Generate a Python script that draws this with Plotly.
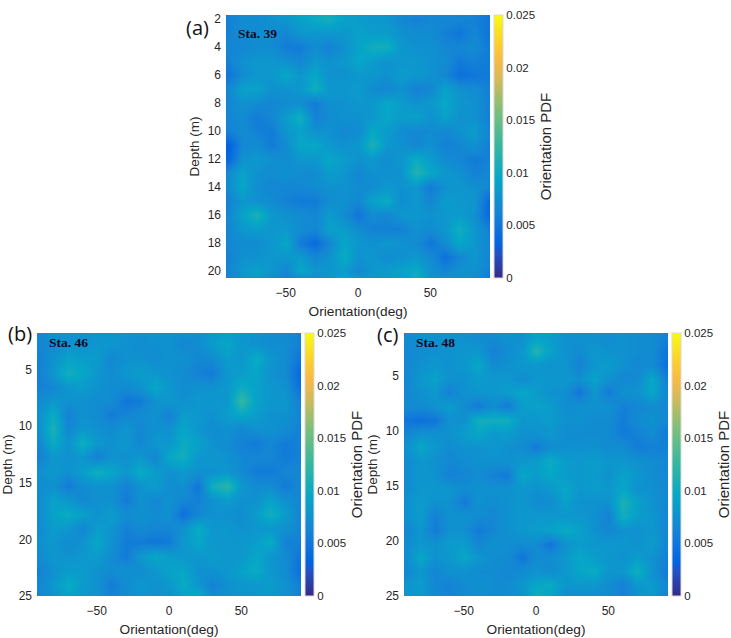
import plotly.graph_objects as go

W, H = 731, 638

# grid of the three maps, values in units of 1e-3
orientation = [-90, -80, -70, -60, -50, -40, -30, -20, -10, 0, 10, 20, 30, 40, 50, 60, 70, 80, 90]
depth_a = [1, 2, 3, 4, 5, 6, 7, 8, 9, 10, 11, 12, 13, 14, 15, 16, 17, 18, 19, 20, 21]
depth_bc = [1.5, 2.75, 4, 5.25, 6.5, 7.75, 9, 10.25, 11.5, 12.75, 14, 15.25, 16.5, 17.75, 19, 20.25, 21.5, 22.75, 24, 25.25]

pdf_a = [
    [6.0, 7.0, 7.0, 7.5, 8.0, 9.0, 9.5, 9.5, 8.5, 8.0, 8.0, 7.5, 7.0, 7.0, 7.0, 7.0, 6.5, 6.5, 5.5],
    [6.0, 7.0, 7.0, 7.5, 8.0, 9.0, 10.0, 10.5, 9.0, 8.5, 8.0, 8.0, 6.5, 6.0, 6.5, 6.5, 6.5, 6.0, 5.0],
    [6.0, 7.0, 7.0, 7.0, 6.5, 8.0, 8.0, 8.0, 8.0, 9.0, 8.5, 8.5, 7.5, 7.0, 7.0, 6.0, 5.0, 6.5, 5.0],
    [6.5, 6.5, 7.0, 7.0, 5.5, 5.5, 7.0, 6.0, 7.5, 9.0, 10.5, 10.5, 8.0, 7.5, 7.5, 6.5, 6.5, 7.0, 5.5],
    [6.0, 7.5, 8.0, 8.0, 7.5, 6.5, 8.0, 7.5, 8.0, 9.5, 8.5, 7.5, 8.0, 8.0, 7.5, 7.0, 5.5, 6.0, 5.5],
    [5.0, 7.0, 8.0, 8.0, 9.5, 8.0, 9.5, 7.5, 7.5, 8.0, 8.0, 7.5, 8.5, 8.0, 7.5, 6.5, 4.5, 5.0, 5.5],
    [6.5, 9.0, 9.0, 7.5, 7.5, 8.0, 10.5, 8.0, 8.0, 8.5, 7.0, 6.5, 7.5, 6.0, 6.5, 9.0, 7.5, 7.0, 6.0],
    [6.5, 7.5, 7.0, 6.5, 7.0, 7.0, 5.5, 7.5, 7.5, 8.0, 8.0, 9.5, 8.5, 7.5, 8.0, 9.5, 8.0, 7.5, 6.0],
    [6.5, 7.0, 5.5, 6.5, 8.5, 10.5, 6.0, 7.0, 7.5, 7.5, 8.0, 9.5, 8.5, 9.0, 7.5, 9.0, 7.5, 7.5, 6.0],
    [6.0, 7.0, 6.0, 5.5, 8.0, 9.0, 7.5, 7.5, 6.5, 7.0, 9.5, 8.5, 7.0, 6.5, 7.0, 6.5, 7.5, 8.5, 6.5],
    [3.0, 6.5, 7.0, 5.5, 7.0, 9.5, 9.5, 8.0, 7.5, 8.0, 11.0, 8.0, 7.5, 6.5, 7.5, 6.0, 6.5, 7.5, 6.0],
    [3.5, 7.5, 8.0, 7.5, 7.0, 8.0, 8.0, 9.5, 8.5, 7.5, 8.0, 7.0, 8.0, 10.0, 8.5, 7.0, 6.5, 5.5, 6.0],
    [7.0, 9.0, 7.5, 7.0, 7.5, 7.0, 7.0, 8.5, 8.0, 6.5, 7.5, 7.5, 7.5, 11.5, 9.5, 8.0, 7.5, 6.0, 6.5],
    [7.0, 9.5, 7.0, 6.5, 6.5, 6.5, 7.0, 7.5, 7.5, 7.0, 7.0, 8.0, 7.5, 8.0, 5.5, 7.5, 8.0, 7.5, 6.5],
    [6.0, 8.0, 7.5, 7.0, 6.0, 5.5, 5.5, 7.0, 7.5, 6.5, 9.0, 10.0, 7.0, 8.0, 6.5, 8.5, 8.0, 8.0, 4.0],
    [6.5, 9.0, 11.0, 8.0, 7.5, 7.0, 6.5, 8.5, 7.0, 5.0, 7.0, 6.5, 8.0, 8.0, 7.5, 8.0, 8.5, 7.5, 4.0],
    [6.5, 8.0, 8.5, 8.0, 8.0, 7.0, 6.5, 9.0, 8.5, 7.0, 6.0, 6.0, 6.0, 7.5, 7.0, 8.0, 10.5, 8.0, 6.0],
    [6.5, 7.0, 7.0, 8.0, 9.5, 5.5, 4.0, 6.5, 9.5, 8.0, 7.5, 8.0, 7.5, 7.0, 5.0, 7.0, 9.5, 8.0, 6.5],
    [6.0, 7.5, 7.5, 8.0, 8.0, 8.5, 6.5, 7.5, 10.0, 7.5, 8.0, 7.0, 7.5, 8.0, 7.0, 4.5, 6.5, 8.0, 6.5],
    [6.5, 8.0, 9.0, 8.0, 6.5, 9.5, 8.0, 8.0, 8.5, 6.5, 8.0, 8.5, 9.0, 10.0, 7.5, 6.5, 7.5, 7.5, 6.0],
    [6.0, 7.5, 7.5, 6.5, 5.5, 4.5, 6.5, 8.0, 11.0, 10.0, 8.0, 8.0, 8.5, 10.5, 8.0, 8.5, 7.5, 7.0, 5.0],
]

pdf_b = [
    [6.5, 7.5, 7.5, 7.5, 7.5, 7.5, 7.5, 7.5, 7.5, 7.5, 7.5, 7.5, 8.0, 8.5, 8.0, 7.5, 7.0, 7.0, 6.0],
    [6.5, 7.0, 7.5, 7.5, 8.0, 8.0, 7.5, 7.0, 7.5, 7.5, 6.5, 7.0, 8.5, 9.5, 8.0, 7.5, 7.0, 7.0, 6.0],
    [6.0, 7.5, 9.0, 8.5, 8.5, 6.5, 7.5, 7.5, 7.0, 7.5, 7.5, 6.5, 7.0, 8.5, 8.0, 10.0, 8.0, 7.0, 5.0],
    [6.0, 8.0, 10.5, 9.5, 8.0, 7.0, 8.0, 8.5, 8.0, 7.5, 7.0, 6.0, 5.5, 8.0, 8.5, 9.5, 7.5, 7.0, 4.0],
    [6.0, 6.5, 8.0, 8.5, 7.5, 7.0, 7.0, 7.5, 9.5, 8.0, 7.0, 7.5, 7.5, 8.0, 10.0, 9.0, 8.0, 7.5, 4.5],
    [7.0, 8.0, 7.5, 7.5, 7.0, 7.0, 5.0, 5.5, 7.5, 8.0, 7.5, 8.0, 8.0, 8.0, 12.5, 9.0, 8.0, 8.0, 6.0],
    [7.5, 10.0, 6.0, 7.5, 7.0, 5.5, 6.5, 7.0, 7.5, 6.0, 8.5, 8.0, 7.5, 8.5, 9.5, 8.5, 7.5, 7.5, 6.5],
    [7.5, 11.0, 6.5, 8.0, 7.5, 7.0, 8.0, 6.5, 7.5, 7.5, 9.5, 8.0, 7.0, 7.5, 6.5, 7.5, 7.5, 7.0, 6.0],
    [6.5, 10.0, 7.5, 10.5, 8.0, 7.5, 8.0, 6.5, 8.0, 8.0, 10.0, 9.0, 7.5, 7.0, 6.0, 5.5, 6.5, 5.5, 6.0],
    [6.0, 8.0, 7.5, 8.0, 6.0, 7.5, 7.5, 8.0, 6.5, 9.5, 10.5, 8.0, 8.0, 7.5, 6.5, 6.5, 6.5, 5.5, 6.0],
    [7.5, 8.0, 7.5, 8.5, 10.5, 9.5, 8.0, 10.0, 8.5, 7.5, 8.0, 7.5, 7.5, 8.0, 7.0, 5.5, 5.5, 6.5, 6.5],
    [7.0, 7.5, 5.5, 7.0, 7.5, 7.5, 6.0, 7.5, 8.5, 7.0, 7.5, 5.0, 10.5, 12.0, 8.0, 7.0, 7.0, 5.5, 6.5],
    [7.0, 9.0, 8.0, 6.5, 7.5, 7.5, 5.5, 7.5, 6.5, 7.5, 6.5, 6.0, 7.5, 8.5, 7.5, 7.5, 9.0, 7.5, 6.5],
    [7.0, 9.0, 10.0, 9.0, 7.5, 8.5, 7.0, 7.5, 7.0, 7.5, 4.5, 6.5, 7.5, 7.5, 7.0, 8.5, 10.5, 8.5, 6.5],
    [7.0, 8.5, 8.0, 6.5, 8.5, 8.0, 6.0, 7.0, 6.5, 6.5, 7.5, 10.0, 8.0, 8.0, 7.5, 8.0, 8.0, 7.5, 6.5],
    [7.5, 8.0, 7.0, 7.5, 9.5, 7.5, 5.5, 5.5, 5.0, 5.5, 8.0, 9.5, 8.0, 8.0, 8.0, 8.5, 10.0, 6.0, 6.0],
    [7.0, 8.0, 7.5, 8.0, 8.5, 7.0, 5.5, 8.0, 9.5, 8.5, 8.0, 8.0, 8.5, 8.0, 8.0, 9.5, 8.0, 7.0, 5.0],
    [6.0, 7.5, 8.5, 8.5, 7.5, 7.0, 7.5, 7.0, 8.0, 9.0, 9.5, 7.5, 7.5, 8.0, 9.0, 10.0, 8.0, 7.0, 4.5],
    [6.5, 8.0, 10.0, 8.5, 7.5, 5.5, 7.0, 8.0, 7.5, 8.0, 10.0, 8.0, 6.0, 7.5, 8.0, 8.0, 8.5, 7.5, 6.0],
    [6.5, 7.5, 8.5, 8.0, 7.5, 6.5, 7.0, 7.5, 7.5, 7.5, 8.5, 10.5, 7.5, 7.5, 7.5, 8.0, 8.0, 7.5, 6.0],
]

pdf_c = [
    [7.0, 7.5, 7.5, 7.5, 7.5, 7.0, 7.0, 7.5, 7.5, 9.0, 8.5, 7.5, 7.5, 7.5, 7.0, 7.5, 7.0, 7.0, 6.0],
    [6.5, 7.0, 7.5, 7.5, 8.0, 8.0, 6.0, 7.0, 8.0, 11.5, 9.0, 7.5, 7.0, 8.0, 7.5, 7.5, 7.0, 7.0, 5.0],
    [6.5, 7.5, 8.0, 7.5, 8.0, 9.5, 7.0, 7.5, 8.0, 8.0, 7.5, 8.0, 6.0, 8.0, 8.5, 7.5, 6.5, 7.0, 4.5],
    [6.5, 8.0, 9.0, 7.5, 7.5, 8.5, 8.0, 8.0, 7.0, 8.0, 8.0, 8.0, 7.5, 9.0, 7.5, 6.5, 7.0, 9.5, 6.0],
    [6.5, 7.5, 8.0, 6.0, 7.5, 8.0, 8.0, 8.5, 9.5, 8.5, 7.5, 7.5, 5.0, 8.0, 5.5, 7.5, 7.5, 9.5, 6.5],
    [7.0, 7.0, 7.5, 8.5, 7.0, 5.5, 7.0, 5.5, 8.5, 9.0, 8.5, 7.0, 7.5, 7.5, 7.5, 6.0, 6.5, 7.0, 6.5],
    [5.0, 4.5, 5.0, 7.5, 7.5, 10.5, 10.5, 10.5, 8.0, 8.0, 8.5, 7.5, 7.5, 7.0, 7.0, 5.5, 7.0, 7.5, 6.5],
    [6.5, 7.5, 7.5, 7.5, 8.5, 9.5, 8.0, 8.5, 7.5, 7.5, 8.0, 7.0, 7.0, 7.0, 7.0, 5.5, 6.0, 7.0, 5.5],
    [7.5, 9.5, 8.0, 7.0, 7.5, 7.5, 8.0, 7.5, 7.0, 5.5, 7.0, 7.5, 7.5, 7.5, 7.0, 7.0, 5.5, 6.0, 6.0],
    [7.0, 8.0, 7.5, 6.5, 7.0, 7.5, 7.5, 7.5, 8.0, 8.5, 10.0, 8.5, 8.0, 8.5, 8.0, 8.0, 7.5, 7.0, 6.5],
    [7.0, 8.0, 7.5, 6.0, 6.5, 7.0, 6.0, 5.5, 9.5, 8.5, 9.5, 8.5, 8.0, 8.5, 7.5, 9.0, 8.0, 7.0, 6.5],
    [7.0, 8.0, 8.0, 8.0, 7.0, 7.5, 7.5, 7.5, 8.0, 7.5, 8.0, 9.5, 8.0, 8.5, 8.0, 9.5, 7.5, 7.5, 6.5],
    [7.5, 8.5, 7.5, 7.5, 5.5, 7.5, 7.0, 7.5, 8.0, 7.0, 7.0, 9.0, 7.5, 7.5, 7.5, 11.0, 9.0, 7.5, 6.5],
    [7.5, 8.5, 6.0, 7.5, 7.5, 7.0, 6.5, 7.5, 8.0, 8.0, 8.0, 8.0, 8.0, 7.5, 6.0, 10.5, 8.5, 8.0, 6.5],
    [6.5, 8.0, 5.5, 7.5, 7.5, 5.5, 6.5, 7.5, 8.0, 8.5, 9.0, 10.0, 9.0, 7.5, 6.5, 7.5, 7.5, 8.0, 6.5],
    [7.0, 8.0, 7.5, 8.5, 8.5, 6.5, 7.5, 7.0, 7.0, 7.0, 5.0, 7.5, 8.5, 8.0, 8.0, 8.0, 7.5, 8.5, 6.5],
    [7.0, 9.5, 7.5, 8.0, 9.5, 8.0, 7.0, 7.0, 5.0, 7.0, 7.0, 8.0, 9.5, 8.5, 8.0, 7.5, 8.5, 7.5, 6.0],
    [6.5, 8.0, 6.5, 7.5, 7.5, 7.0, 7.0, 6.5, 7.0, 7.5, 7.0, 8.0, 9.5, 10.0, 8.0, 8.0, 10.5, 7.5, 5.5],
    [8.0, 8.5, 6.5, 6.0, 7.0, 7.5, 7.0, 7.0, 8.0, 9.5, 10.0, 8.0, 8.0, 8.0, 7.0, 6.0, 8.0, 8.5, 6.5],
    [7.5, 8.0, 7.0, 6.5, 7.0, 7.0, 7.0, 7.0, 7.5, 10.5, 9.0, 7.0, 7.0, 7.0, 7.0, 6.0, 7.5, 8.0, 6.0],
]

stations = ["Sta. 39", "Sta. 46", "Sta. 48"]
panel_tags = ["(a)", "(b)", "(c)"]

# parula
parula = [
    [0.0, "rgb(53,42,135)"], [0.0952, "rgb(32,83,199)"], [0.127, "rgb(3,99,225)"],
    [0.2063, "rgb(16,120,218)"], [0.254, "rgb(20,133,212)"], [0.381, "rgb(6,167,198)"],
    [0.508, "rgb(55,184,158)"], [0.635, "rgb(124,191,123)"], [0.762, "rgb(217,186,86)"],
    [0.825, "rgb(248,186,68)"], [0.889, "rgb(252,206,46)"], [1.0, "rgb(249,251,14)"],
]

cbar_ticks = [0, 0.005, 0.01, 0.015, 0.02, 0.025]
cbar_text = ["0", "0.005", "0.01", "0.015", "0.02", "0.025"]
x_ticks = [-50, 0, 50]

INK = "#262626"
ARIAL = "Liberation Sans"

# pixel boxes: left, top, right, bottom
boxes = [(226, 15, 490, 278), (37, 333, 301, 596), (404, 333, 668, 596)]
y_ranges = [[20.5, 1.7], [25, 1.76], [25, 1.1]]
y_ticks = [[2, 4, 6, 8, 10, 12, 14, 16, 18, 20], [5, 10, 15, 20, 25], [5, 10, 15, 20, 25]]
maps = [pdf_a, pdf_b, pdf_c]
depths = [depth_a, depth_bc, depth_bc]
tag_pos = [(197, 12), (20, 333), (387, 334)]

fig = go.Figure()

for i, box in enumerate(boxes):
    left, top, right, bottom = box
    n = "" if i == 0 else str(i + 1)
    fig.add_trace(go.Heatmap(
        x=orientation,
        y=depths[i],
        z=[[v * 1e-3 for v in row] for row in maps[i]],
        zmin=0,
        zmax=0.025,
        zsmooth="best",
        colorscale=parula,
        xaxis="x" + n,
        yaxis="y" + n,
        colorbar=dict(
            x=(right + 4) / W, xanchor="left", xpad=0,
            y=1 - top / H, yanchor="top", ypad=0,
            lenmode="pixels", len=bottom - top,
            thicknessmode="pixels", thickness=9,
            outlinewidth=1, outlinecolor="#d9d9d9",
            tickvals=cbar_ticks, ticktext=cbar_text,
            ticks="", tickfont=dict(family=ARIAL, size=11.5, color=INK),
            title=dict(text="Orientation PDF", side="right",
                       font=dict(family=ARIAL, size=15, color=INK)),
        ),
    ))
    fig.update_layout({
        "xaxis" + n: dict(
            domain=[left / W, right / W], range=[-91.2, 91.2],
            tickvals=x_ticks, ticks="", showgrid=False, zeroline=False,
            ticklabelstandoff=6,
            anchor="y" + n, tickfont=dict(family=ARIAL, size=12, color=INK),
            title=dict(text="Orientation(deg)", standoff=7,
                       font=dict(family=ARIAL, size=13.7, color=INK)),
        ),
        "yaxis" + n: dict(
            domain=[1 - bottom / H, 1 - top / H], range=y_ranges[i],
            tickvals=y_ticks[i], ticks="", showgrid=False, zeroline=False,
            ticklabelstandoff=4,
            anchor="x" + n, tickfont=dict(family=ARIAL, size=12, color=INK),
            title=dict(text="Depth (m)", standoff=4,
                       font=dict(family=ARIAL, size=13.5, color=INK)),
        ),
    })
    fig.add_annotation(
        x=(left + 10) / W, y=1 - (top + 9) / H, xref="paper", yref="paper",
        text="<b>%s</b>" % stations[i], showarrow=False, xanchor="left",
        font=dict(family="Liberation Serif", size=13.5, color="#0a0a1e"),
    )
    fig.add_annotation(
        x=tag_pos[i][0] / W, y=1 - tag_pos[i][1] / H, xref="paper", yref="paper",
        text=panel_tags[i], showarrow=False, xanchor="center",
        font=dict(family="Open Sans", size=20, color="#111111"),
    )

fig.update_layout(
    width=W,
    height=H,
    margin=dict(l=0, r=0, t=0, b=0, autoexpand=False),
    paper_bgcolor="white",
    plot_bgcolor="white",
)

fig.write_html("out.html", config={"displayModeBar": False},
               post_script="document.body.style.margin = '0';")
